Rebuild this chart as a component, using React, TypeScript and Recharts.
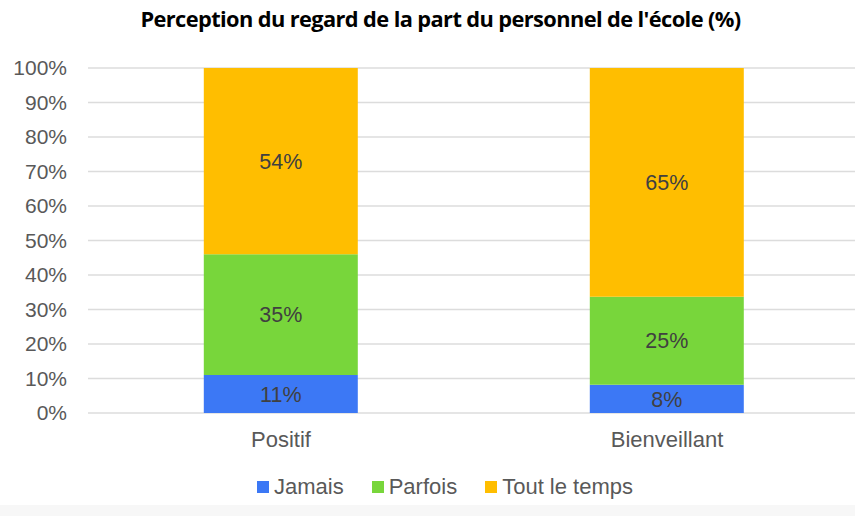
import { BarChart, Bar, XAxis, YAxis, CartesianGrid, LabelList } from 'recharts';

const categories = ['Positif', 'Bienveillant'];
const jamais = [11, 8];
const parfois = [35, 25];
const toutLeTemps = [54, 65];
const yTicks = [0, 10, 20, 30, 40, 50, 60, 70, 80, 90, 100];

const series = [
  { key: 'jamais', name: 'Jamais', color: '#3c78f5' },
  { key: 'parfois', name: 'Parfois', color: '#78d63b' },
  { key: 'tout', name: 'Tout le temps', color: '#ffbe00' },
];

const data = categories.map((c, i) => ({
  name: c,
  jamais: jamais[i],
  parfois: parfois[i],
  tout: toutLeTemps[i],
}));

const font = '"Liberation Sans", Arial, sans-serif';

export default function App() {
  return (
    <div
      style={{
        position: 'fixed',
        left: 0,
        top: 0,
        width: 855,
        height: 516,
        overflow: 'hidden',
        background: '#fff',
      }}
    >
      <div
        style={{
          position: 'absolute',
          top: 4,
          left: 13,
          width: 855,
          textAlign: 'center',
          fontFamily: '"Open Sans", sans-serif',
          fontWeight: 700,
          fontSize: 21.8,
          letterSpacing: -0.6,
          color: '#000',
        }}
      >
        Perception du regard de la part du personnel de l'école (%)
      </div>
      <div style={{ position: 'absolute', top: 0, left: 0 }}>
        <BarChart
          width={860}
          height={505}
          data={data}
          stackOffset="expand"
          barCategoryGap="30%"
          margin={{ top: 68, right: 0, left: 0, bottom: 0 }}
        >
          <CartesianGrid vertical={false} stroke="#dcdcdc" strokeWidth={1.5} />
          <XAxis
            dataKey="name"
            axisLine={false}
            tickLine={false}
            tickSize={0}
            tickMargin={18}
            height={92}
            tick={{ fontSize: 22, fill: '#595959', fontFamily: font }}
          />
          <YAxis
            width={88}
            domain={[0, 1]}
            ticks={yTicks.map((t) => t / 100)}
            tickFormatter={(v) => `${Math.round(v * 100)}%`}
            axisLine={false}
            tickLine={false}
            tickSize={0}
            tickMargin={21}
            tick={{ fontSize: 21, fill: '#595959', fontFamily: font }}
            interval={0}
          />
          {series.map((s) => (
            <Bar
              key={s.key}
              dataKey={s.key}
              name={s.name}
              stackId="a"
              fill={s.color}
              isAnimationActive={false}
            >
              <LabelList
                dataKey={s.key}
                position="center"
                formatter={(v: number) => `${v}%`}
                style={{ fontSize: 21.5, fill: '#404040', fontFamily: font }}
              />
            </Bar>
          ))}
        </BarChart>
      </div>
      <div
        style={{
          position: 'absolute',
          top: 474,
          left: 257,
          display: 'flex',
          alignItems: 'center',
          fontFamily: font,
          fontSize: 22,
          color: '#595959',
        }}
      >
        {series.map((s) => (
          <div key={s.key} style={{ display: 'flex', alignItems: 'center', marginRight: 28 }}>
            <span
              style={{
                display: 'inline-block',
                width: 12,
                height: 12,
                background: s.color,
                marginRight: 5,
              }}
            />
            <span>{s.name}</span>
          </div>
        ))}
      </div>
      <div
        style={{
          position: 'absolute',
          top: 505,
          left: 0,
          width: 855,
          height: 11,
          background: '#f7f7f7',
        }}
      />
    </div>
  );
}
